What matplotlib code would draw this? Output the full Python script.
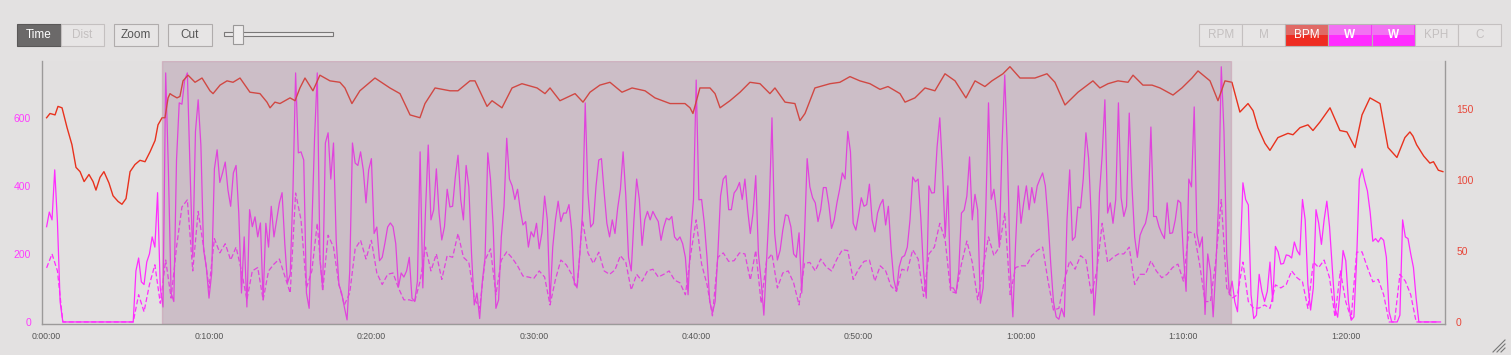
import numpy as np
import matplotlib
matplotlib.use("Agg")
import matplotlib.pyplot as plt
from matplotlib.patches import Rectangle
from matplotlib.lines import Line2D
from matplotlib.ticker import FuncFormatter

plt.rcParams['font.family'] = ['Liberation Sans', 'DejaVu Sans']

# sampling of the two power channels (seconds between samples)
SAMPLE_W = 10
SAMPLE_W2 = 20

# power, solid trace (W)
power_w = [
    280, 323, 300, 447, 294, 59,
    0, 0, 0, 0, 0, 0, 0, 0, 0, 0, 0, 0, 0, 0, 0, 0, 0, 0, 0, 0, 0, 0, 0, 0, 0, 0, 0,
    150, 188, 118, 110, 176, 200, 250, 220, 380, 100,
    44, 732, 447, 85, 60, 476, 644, 640, 711, 732,
    447, 190, 560, 653, 520, 212, 162, 70, 144, 450,
    506, 410, 438, 470, 388, 340, 438, 460, 320, 85,
    250, 44, 330, 280, 309, 250, 291, 65, 290, 220,
    340, 250, 300, 350, 380, 230, 115, 140, 379, 732,
    497, 500, 476, 85, 40, 279, 540, 732, 182, 100,
    526, 556, 420, 526, 240, 110, 85, 44, 6, 150,
    526, 467, 460, 500, 447, 350, 447, 480, 260, 279,
    180, 190, 232, 279, 291, 280, 230, 103, 144, 132,
    150, 190, 70, 60, 120, 500, 100, 330, 520, 300,
    329, 450, 320, 241, 280, 390, 338, 340, 426, 490,
    360, 300, 460, 397, 200, 50, 85, 10, 120, 190,
    497, 420, 280, 40, 65, 250, 340, 540, 420, 400,
    360, 390, 330, 285, 295, 220, 265, 250, 290, 215,
    262, 370, 300, 60, 220, 300, 355, 295, 320, 320,
    345, 270, 110, 103, 200, 320, 644, 380, 279, 290,
    400, 476, 480, 380, 290, 250, 300, 260, 335, 390,
    500, 370, 190, 150, 300, 420, 360, 225, 300, 325,
    300, 325, 309, 295, 240, 279, 305, 300, 310, 250,
    240, 250, 230, 190, 80, 262, 360, 711, 359, 360,
    290, 190, 60, 26, 60, 200, 370, 420, 430, 330,
    330, 379, 390, 410, 360, 420, 330, 260, 320, 430,
    200, 120, 20, 180, 338, 600, 260, 182, 210, 270,
    315, 312, 279, 200, 190, 262, 85, 250, 480, 397,
    365, 350, 295, 330, 395, 395, 345, 275, 300, 350,
    390, 438, 420, 560, 500, 290, 270, 315, 365, 340,
    345, 405, 300, 265, 320, 345, 360, 285, 340, 215,
    125, 90, 162, 190, 195, 220, 300, 426, 412, 420,
    305, 150, 70, 400, 379, 380, 514, 600, 450, 250,
    400, 100, 100, 85, 150, 320, 329, 370, 485, 300,
    375, 329, 55, 100, 330, 644, 360, 390, 320, 220,
    520, 726, 500, 160, 15, 230, 400, 290, 350, 400,
    330, 395, 350, 400, 420, 438, 400, 300, 170, 60,
    15, 8, 40, 15, 300, 447, 240, 250, 338, 335,
    420, 556, 480, 300, 20, 130, 379, 490, 653, 320,
    350, 290, 360, 644, 365, 310, 340, 614, 400, 250,
    190, 255, 275, 290, 330, 573, 310, 310, 280, 260,
    245, 350, 260, 262, 300, 358, 350, 200, 90, 420,
    397, 632, 260, 220, 250, 22, 200, 150, 15, 160,
    350, 750, 560, 200, 80, 120, 59, 30, 197, 409,
    360, 344, 80, 10, 20, 140, 90, 60, 90, 176,
    60, 222, 206, 170, 172, 197, 195, 188, 235, 210,
    197, 360, 300, 110, 35, 100, 330, 290, 228, 300,
    355, 280, 160, 41, 14, 100, 210, 180, 58, 5,
    15, 180, 420, 450, 415, 385, 323, 237, 245, 235,
    248, 240, 190, 30, 0, 0, 0, 20, 300, 250,
    245, 200, 160, 70, 0, 0, 0, 0, 0, 0,
    0, 0, 0,
]

# power, dashed trace (W)
power2_w = [
    159, 200, 150,
    0, 0, 0, 0, 0, 0, 0, 0, 0, 0, 0, 0, 0, 0,
    80, 30, 110, 168, 55, 182, 70, 220, 338, 359,
    150, 325, 220, 100, 245, 203, 230, 182, 220, 150,
    65, 150, 160, 65, 150, 170, 185, 135, 85, 379,
    300, 100, 150, 290, 90, 255, 220, 110, 50, 85,
    215, 240, 185, 240, 144, 110, 140, 144, 100, 65,
    65, 60, 120, 220, 150, 200, 125, 195, 190, 260,
    190, 175, 70, 40, 182, 215, 80, 182, 206, 188,
    165, 135, 132, 128, 150, 132, 50, 125, 182, 168,
    140, 100, 300, 203, 172, 205, 150, 140, 153, 195,
    175, 94, 140, 120, 150, 155, 132, 140, 150, 123,
    115, 80, 200, 300, 170, 110, 18, 190, 203, 178,
    180, 203, 200, 123, 210, 55, 180, 200, 100, 144,
    150, 115, 50, 172, 175, 150, 185, 162, 150, 185,
    212, 210, 125, 155, 178, 182, 120, 165, 150, 105,
    90, 155, 150, 212, 185, 75, 200, 220, 290, 240,
    90, 85, 170, 238, 175, 65, 160, 250, 195, 220,
    320, 80, 160, 165, 165, 195, 210, 220, 120, 35,
    40, 120, 180, 155, 195, 182, 80, 150, 290, 175,
    190, 200, 200, 220, 110, 140, 140, 180, 150, 130,
    140, 160, 170, 120, 265, 260, 170, 60, 60, 182,
    360, 100, 70, 80, 176, 60, 40, 41, 50, 40,
    109, 100, 110, 150, 130, 118, 40, 176, 160, 182,
    130, 15, 150, 59, 10, 205, 206, 160, 118, 125,
    80, 0, 0, 140, 120, 80, 0, 0, 0, 0,
    0,
]

# heart rate: time (min) and bpm
hr_min = [
    0.0, 0.21, 0.52, 0.70, 0.95, 1.26, 1.56, 1.81, 2.06, 2.31, 2.61, 2.86, 3.04,
    3.29, 3.53, 3.84, 4.09, 4.40, 4.64, 4.89, 5.14, 5.44, 5.75, 6.06, 6.37, 6.68,
    6.86, 7.11, 7.29, 7.48, 7.60, 7.72, 8.03, 8.21, 8.40, 8.71, 9.14, 9.57, 10.06,
    10.25, 10.68, 11.11, 11.48, 11.91, 12.52, 13.14, 13.57, 13.76, 14.06, 14.37,
    14.99, 15.30, 15.60, 15.91, 16.40, 16.83, 17.45, 18.06, 18.37, 18.80, 19.29,
    20.22, 21.14, 21.76, 22.38, 22.99, 23.30, 23.92, 24.84, 25.33, 26.07, 26.38,
    27.12, 27.43, 28.04, 28.66, 29.27, 30.20, 30.69, 31.00, 31.61, 32.54, 33.03,
    33.46, 34.07, 34.69, 35.43, 36.05, 36.85, 37.46, 38.39, 39.31, 39.62, 39.80,
    40.23, 40.85, 41.16, 41.47, 42.08, 42.70, 43.31, 43.93, 44.54, 44.85, 45.47,
    46.08, 46.39, 46.70, 47.31, 48.24, 48.85, 49.47, 50.08, 50.70, 51.32, 51.81,
    52.55, 52.86, 53.47, 54.09, 54.70, 55.32, 55.94, 56.61, 57.17, 57.78, 58.21,
    58.89, 59.32, 59.94, 60.86, 61.60, 62.09, 62.71, 63.51, 64.43, 64.86, 65.36,
    65.97, 66.59, 66.90, 67.51, 68.07, 68.56, 69.36, 69.91, 70.53, 70.90, 71.64,
    72.13, 72.56, 72.99, 73.48, 73.98, 74.29, 74.59, 75.02, 75.33, 75.82, 76.44,
    76.75, 77.18, 77.67, 77.98, 78.41, 79.03, 79.64, 80.07, 80.57, 81.00, 81.49,
    82.11, 82.60, 83.15, 83.64, 83.95, 84.14, 84.36, 84.80, 85.18, 85.40, 85.70,
    85.98,
]
hr_bpm = [
    144, 147, 146, 152, 151, 137, 125, 109, 106, 99, 104, 99, 93,
    102, 106, 98, 89, 85, 83, 87, 106, 111, 114, 113, 120, 128,
    139, 144, 144, 158, 161, 160, 158, 159, 170, 174, 169, 172, 163,
    161, 167, 170, 169, 172, 162, 161, 155, 151, 155, 154,
    158, 156, 165, 172, 163, 174, 170, 169, 165, 154, 163,
    172, 165, 161, 146, 144, 154, 165, 163, 163, 170, 170,
    152, 156, 151, 165, 168, 165, 161, 165, 156, 161, 155,
    162, 167, 169, 162, 165, 163, 158, 154, 154, 151, 147,
    165, 165, 161, 151, 156, 162, 169, 168, 161, 165, 155,
    154, 142, 147, 165, 168, 169, 173, 170, 168, 164, 166,
    161, 155, 158, 165, 163, 175, 170, 158, 170, 166, 170,
    175, 180, 172, 172, 175, 169, 153, 162, 170, 165, 168,
    170, 169, 174, 167, 167, 165, 160, 165, 172, 177, 170,
    156, 170, 169, 148, 154, 149, 137, 126, 121, 130, 133,
    132, 137, 139, 135, 141, 151, 135, 134, 123, 146, 158,
    154, 123, 116, 130, 134, 131, 125, 117, 112, 113, 107,
    106,
]

selection_min = (7.1, 72.93)
w_ticks = [0, 200, 400, 600]
bpm_ticks = [0, 50, 100, 150]
time_ticks_min = [0, 10, 20, 30, 40, 50, 60, 70, 80]
left_buttons = ["Time", "Dist", "Zoom", "Cut"]
series_buttons = ["RPM", "M", "BPM", "W", "W", "KPH", "C"]

W, H = 1511, 355
BG = '#e3e1e1'
MAGENTA = '#ff2cff'
RED = '#e8321e'

fig = plt.figure(figsize=(W / 100, H / 100), dpi=100, facecolor=BG)
ax = fig.add_axes([42.3 / W, 31 / H, (1445 - 42.3) / W, 263 / H])
ax.set_facecolor('#e2e0e0')
ax2 = ax.twinx()

t_w = np.arange(len(power_w)) * SAMPLE_W / 60
t_w2 = np.arange(len(power2_w)) * SAMPLE_W2 / 60
ax.plot(t_w, power_w, color=MAGENTA, lw=0.9, zorder=3)
ax.plot(t_w2, power2_w, color=MAGENTA, lw=0.9, ls=(0, (4, 2)), zorder=3)
ax2.plot(hr_min, hr_bpm, color=RED, lw=1.0, zorder=3)

# selected range, drawn over the traces
ax2.axvspan(*selection_min, facecolor='#a07894', edgecolor='#c07898',
            alpha=0.32, lw=1.0, zorder=6)

ax.set_xlim(-0.265, 86.11)
ax.set_ylim(-6, 767)
ax2.set_ylim(-1.4, 184)

def hms(v, pos):
    s = int(round(v * 60))
    return f"{s // 3600}:{(s % 3600) // 60:02d}:{s % 60:02d}"

ax.set_xticks(time_ticks_min)
ax.xaxis.set_major_formatter(FuncFormatter(hms))
ax.set_yticks(w_ticks)
ax2.set_yticks(bpm_ticks)
ax.tick_params(axis='x', length=0, pad=6, labelsize=6.3, labelcolor='#555555')
ax.tick_params(axis='y', length=0, pad=8, labelsize=7.5, labelcolor='#ff3cff')
ax2.tick_params(axis='y', length=0, pad=8, labelsize=7.5, labelcolor='#e8473a')

for a in (ax, ax2):
    a.spines['top'].set_visible(False)
    for s in ('left', 'right', 'bottom'):
        a.spines[s].set_color('#9c9a9a')
        a.spines[s].set_linewidth(1.0)
ax.spines['right'].set_visible(False)
ax2.spines['left'].set_visible(False)
ax2.spines['bottom'].set_visible(False)


def box(x0, y0, x1, y1, face, edge='#b8b4b4', lw=0.8):
    fig.add_artist(Rectangle((x0 / W, 1 - y1 / H), (x1 - x0) / W, (y1 - y0) / H,
                             transform=fig.transFigure, facecolor=face,
                             edgecolor=edge, lw=lw))


def label(x, y, s, color, weight='normal', size=8.5):
    fig.text(x / W, 1 - y / H, s, ha='center', va='center', color=color,
             fontsize=size, fontweight=weight)


# top-left controls
top, bot = 24.3, 45.7
box(17.3, top, 60.7, bot, '#6b6969', '#5a5858')
label(39, 35, left_buttons[0], 'white')
box(60.7, top, 104, bot, '#e7e5e5', '#c4c0c0')
label(82.3, 35, left_buttons[1], '#c4c0c0')
box(114.3, top, 157.7, bot, '#e7e5e5', '#b0acac')
label(136, 35, left_buttons[2], '#555555')
box(168.3, top, 211.7, bot, '#e7e5e5', '#b0acac')
label(190, 35, left_buttons[3], '#555555')
box(224, 31.7, 333.3, 35.7, '#ebe9e9', '#7a7878')
box(232.7, 25, 242.7, 44.3, '#eeecec', '#9a9898')

# top-right series toggles
x0 = 1199.3
bw = 43.06
styles = {
    "BPM": ('#e06a66', '#ee2c22', 'white', 'normal'),
    "W": ('#f272f2', '#ff2cff', 'white', 'bold'),
}
for i, name in enumerate(series_buttons):
    xa, xb = x0 + i * bw, x0 + (i + 1) * bw
    if name in styles:
        c_top, c_bot, tc, wt = styles[name]
        box(xa, top, xb, bot, c_bot, '#b8b4b4')
        box(xa + 0.5, top + 0.5, xb - 0.5, 35, c_top, 'none', 0)
    else:
        box(xa, top, xb, bot, '#e7e5e5', '#c4c0c0')
        tc, wt = '#c4c0c0', 'normal'
    label((xa + xb) / 2, 35, name, tc, wt)

# resize grip
for d in (4, 8, 12):
    fig.add_artist(Line2D([(1505 - d) / W, 1505 / W], [1 - 352 / H, 1 - (352 - d) / H],
                          transform=fig.transFigure, color='#777777', lw=0.8))

fig.savefig('out.png', dpi=100, facecolor=BG)
